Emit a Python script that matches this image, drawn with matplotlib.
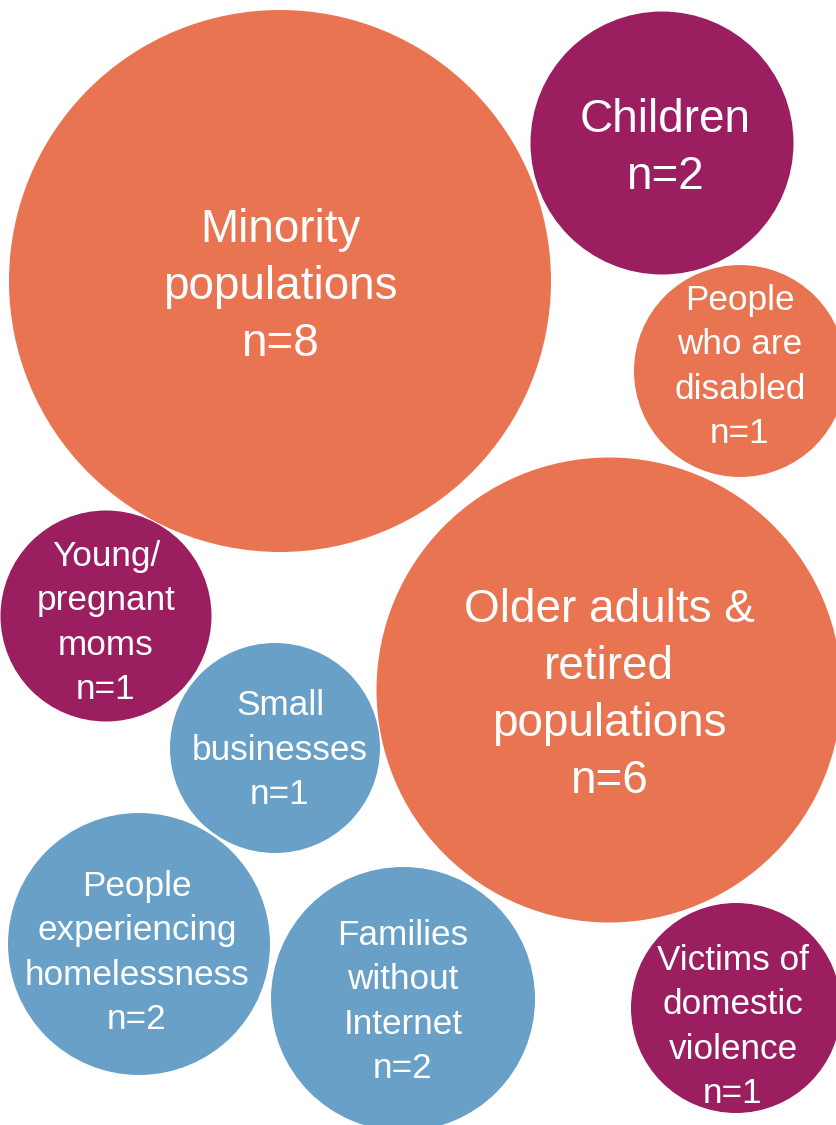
import matplotlib
matplotlib.use("Agg")
import matplotlib.pyplot as plt
from matplotlib.patches import Circle

# data
labels = ["Minority\npopulations", "Children", "People\nwho are\ndisabled",
          "Older adults &\nretired\npopulations", "Young/\npregnant\nmoms",
          "Small\nbusinesses", "People\nexperiencing\nhomelessness",
          "Families\nwithout\nInternet", "Victims of\ndomestic\nviolence"]
counts = [8, 2, 1, 6, 1, 1, 2, 2, 1]
groups = ["orange", "purple", "orange", "orange", "purple",
          "blue", "blue", "blue", "purple"]

# layout (pixels, y down)
CX = [280, 662, 740, 609, 106, 275, 139, 403, 736]
CY = [281, 143, 371, 690, 616, 748, 944, 999, 1008]
R = [271, 131.5, 106, 232.5, 105.5, 105, 131, 132, 105]
TX = [280, 665, 740, 609, 106, 280, 137, 403, 733]
TY = [283, 144, 364, 691, 620, 747, 950, 999, 1024]
BIG = [True, True, False, True, False, False, False, False, False]

COL = {"orange": "#E97451", "purple": "#9B1F60", "blue": "#68A0C7"}
W, H = 836, 1125

fig = plt.figure(figsize=(W / 100, H / 100), dpi=100)
ax = fig.add_axes([0, 0, 1, 1])
ax.set_xlim(0, W)
ax.set_ylim(H, 0)
ax.set_aspect("equal")
ax.axis("off")

for i in range(len(labels)):
    ax.add_patch(Circle((CX[i], CY[i]), R[i], facecolor=COL[groups[i]],
                        edgecolor="none", zorder=1))
    lines = labels[i].split("\n") + ["n=%d" % counts[i]]
    fs = 33 if BIG[i] else 25.3
    step = 57 if BIG[i] else 44.5
    cap = fs / 0.72 * 0.716
    k = len(lines)
    for j, s in enumerate(lines):
        yb = TY[i] + (j - (k - 1) / 2) * step + cap / 2
        ax.text(TX[i], yb, s, ha="center", va="baseline", color="white",
                fontsize=fs, family=["Liberation Sans", "DejaVu Sans"], zorder=2)

fig.savefig("out.png", dpi=100)
